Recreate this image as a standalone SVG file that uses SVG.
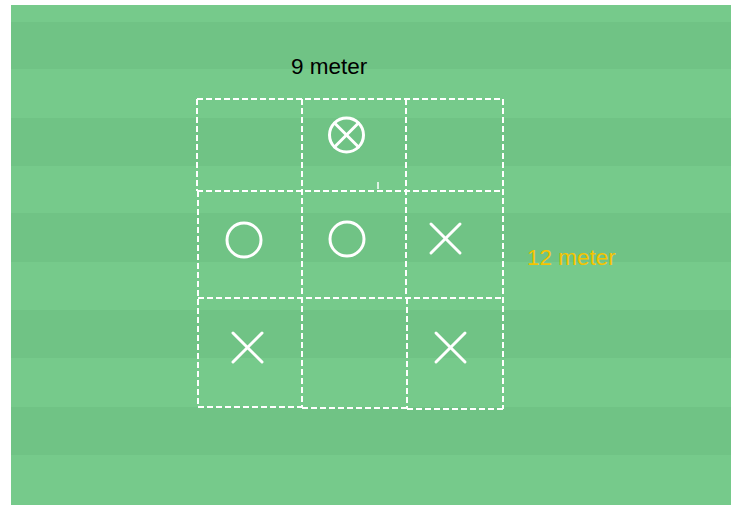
<svg xmlns="http://www.w3.org/2000/svg" width="739" height="513" viewBox="0 0 739 513">
<style>
.cell{fill:none;stroke:#ffffff;stroke-width:2;stroke-dasharray:6 3}
.mark{fill:none;stroke:#ffffff;stroke-width:3;stroke-linecap:round}
.lbl{font-family:"Liberation Sans",Arial,sans-serif;font-size:22.5px}
</style>
<rect x="0" y="0" width="739" height="513" fill="#ffffff"/>
<g id="field">
<rect x="11" y="5" width="720" height="500" fill="#76ca8b"/>
<rect x="11" y="22" width="720" height="47" fill="#70c385"/>
<rect x="11" y="118" width="720" height="48" fill="#70c385"/>
<rect x="11" y="213" width="720" height="49" fill="#70c385"/>
<rect x="11" y="310" width="720" height="48" fill="#70c385"/>
<rect x="11" y="407" width="720" height="48" fill="#70c385"/>
</g>
<g id="grid">
<line class="cell" x1="197" y1="99" x2="503" y2="99"/>
<line class="cell" x1="197" y1="191" x2="503" y2="191"/>
<line class="cell" x1="198" y1="298" x2="503" y2="298"/>
<line class="cell" x1="198" y1="407" x2="302" y2="407"/>
<line class="cell" x1="302" y1="408" x2="407" y2="408"/>
<line class="cell" x1="407" y1="409" x2="503" y2="409"/>
<line class="cell" x1="197" y1="99" x2="197" y2="191"/>
<line class="cell" x1="198" y1="191" x2="198" y2="407"/>
<line class="cell" x1="302" y1="99" x2="302" y2="408"/>
<line class="cell" x1="406" y1="99" x2="406" y2="298"/>
<line class="cell" x1="407" y1="298" x2="407" y2="409"/>
<line class="cell" x1="503" y1="99" x2="503" y2="409"/>
<line x1="378" y1="182" x2="378" y2="189" stroke="#ffffff" stroke-width="1.5"/>
</g>
<g id="marks">
<g id="m12"><circle class="mark" cx="346.5" cy="135" r="17"/><line class="mark" x1="334.5" y1="123" x2="358.5" y2="147"/><line class="mark" x1="358.5" y1="123" x2="334.5" y2="147"/></g>
<circle id="m21" class="mark" cx="244" cy="240" r="17"/>
<circle id="m22" class="mark" cx="347" cy="239" r="17"/>
<g id="m23"><line class="mark" x1="431" y1="224" x2="460" y2="253"/><line class="mark" x1="460" y1="224" x2="431" y2="253"/></g>
<g id="m31"><line class="mark" x1="233" y1="333" x2="262" y2="362"/><line class="mark" x1="262" y1="333" x2="233" y2="362"/></g>
<g id="m33"><line class="mark" x1="436" y1="333" x2="465" y2="362"/><line class="mark" x1="465" y1="333" x2="436" y2="362"/></g>
</g>
<text id="width" class="lbl" x="291" y="74" fill="#000000">9 meter</text>
<text id="height" class="lbl" x="527" y="265" fill="#f5c400">12 meter</text>
</svg>
